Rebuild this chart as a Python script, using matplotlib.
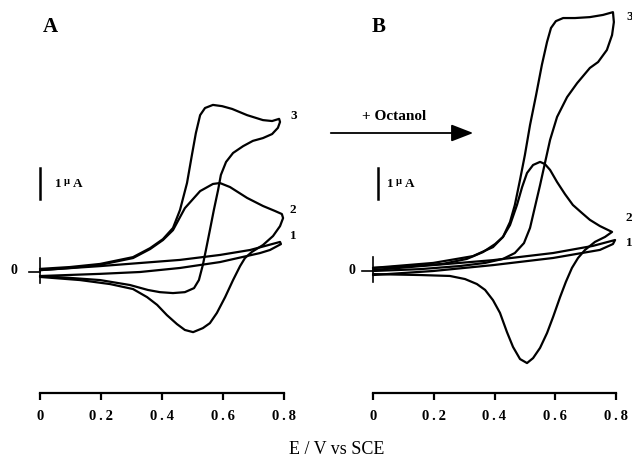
import matplotlib
matplotlib.use("Agg")
import matplotlib.pyplot as plt
from matplotlib.patches import FancyArrowPatch

# ---------------- data (E in V vs SCE, I in uA) ----------------
# Panel A
a1_fwd_E = [0, 0.197, 0.328, 0.459, 0.590, 0.689, 0.787]
a1_fwd_I = [0.06, 0.19, 0.29, 0.39, 0.55, 0.71, 0.97]
a1_ret_E = [0.790, 0.754, 0.721, 0.590, 0.459, 0.328, 0.197, 0]
a1_ret_I = [0.90, 0.71, 0.61, 0.32, 0.13, 0.0, -0.06, -0.13]

a2_fwd_E = [0, 0.098, 0.197, 0.305, 0.361, 0.403, 0.436, 0.475, 0.525, 0.567, 0.590,
            0.623, 0.679, 0.731, 0.770, 0.793]
a2_fwd_I = [0.06, 0.13, 0.23, 0.45, 0.74, 1.03, 1.35, 2.06, 2.61, 2.84, 2.87,
            2.74, 2.39, 2.13, 1.97, 1.87]
a2_ret_E = [0.797, 0.787, 0.764, 0.731, 0.695, 0.672, 0.656, 0.633, 0.607, 0.580, 0.557,
            0.534, 0.502, 0.475, 0.449, 0.416, 0.384, 0.351, 0.305, 0.230, 0.131, 0]
a2_ret_I = [1.74, 1.48, 1.16, 0.87, 0.65, 0.45, 0.19, -0.26, -0.81, -1.32, -1.65,
            -1.81, -1.94, -1.87, -1.68, -1.39, -1.06, -0.81, -0.55, -0.39, -0.26, -0.16]

a3_fwd_E = [0, 0.098, 0.197, 0.305, 0.361, 0.403, 0.436, 0.459, 0.482, 0.498, 0.511,
            0.525, 0.541, 0.567, 0.597, 0.630, 0.679, 0.731, 0.761, 0.784]
a3_fwd_I = [0.10, 0.16, 0.26, 0.48, 0.77, 1.06, 1.42, 2.0, 2.87, 3.77, 4.48,
            5.06, 5.29, 5.39, 5.35, 5.26, 5.06, 4.90, 4.87, 4.94]
a3_ret_E = [0.787, 0.780, 0.761, 0.731, 0.698, 0.666, 0.633, 0.610, 0.593, 0.584, 0.570,
            0.557, 0.544, 0.534, 0.521, 0.505, 0.475, 0.436, 0.393, 0.354, 0.295, 0.197,
            0.098, 0]
a3_ret_I = [4.84, 4.65, 4.45, 4.32, 4.23, 4.06, 3.84, 3.55, 3.13, 2.65, 2.0,
            1.35, 0.71, 0.23, -0.26, -0.52, -0.65, -0.68, -0.65, -0.58, -0.42, -0.26,
            -0.19, -0.13]

# Panel B (+ octanol)
b1_fwd_E = [0, 0.198, 0.395, 0.593, 0.724, 0.797]
b1_fwd_I = [0.03, 0.19, 0.35, 0.58, 0.81, 1.0]
b1_ret_E = [0.790, 0.747, 0.593, 0.395, 0.198, 0]
b1_ret_I = [0.87, 0.68, 0.42, 0.19, 0.0, -0.13]

b2_fwd_E = [0, 0.132, 0.230, 0.309, 0.362, 0.402, 0.428, 0.451, 0.474, 0.491, 0.507,
            0.527, 0.550, 0.566, 0.583, 0.606, 0.632, 0.658, 0.688, 0.714, 0.747, 0.787]
b2_fwd_I = [0.10, 0.16, 0.23, 0.39, 0.61, 0.87, 1.10, 1.48, 2.13, 2.71, 3.16,
            3.42, 3.52, 3.45, 3.26, 2.87, 2.48, 2.13, 1.87, 1.65, 1.45, 1.26]
b2_ret_E = [0.764, 0.731, 0.698, 0.675, 0.655, 0.635, 0.616, 0.593, 0.573, 0.550, 0.527,
            0.507, 0.484, 0.461, 0.441, 0.418, 0.395, 0.369, 0.342, 0.303, 0.253, 0.155, 0]
b2_ret_I = [1.10, 0.94, 0.68, 0.42, 0.10, -0.35, -0.84, -1.48, -2.0, -2.48, -2.81,
            -2.97, -2.84, -2.45, -1.97, -1.35, -0.94, -0.61, -0.42, -0.26, -0.16, -0.13, -0.10]

b3_fwd_E = [0, 0.198, 0.329, 0.395, 0.428, 0.451, 0.467, 0.484, 0.500, 0.517, 0.537,
            0.556, 0.573, 0.586, 0.602, 0.626, 0.665, 0.714, 0.757, 0.790]
b3_fwd_I = [0.10, 0.26, 0.48, 0.77, 1.10, 1.58, 2.13, 2.94, 3.74, 4.71, 5.68,
            6.65, 7.39, 7.84, 8.06, 8.16, 8.16, 8.19, 8.26, 8.35]
b3_ret_E = [0.793, 0.787, 0.770, 0.741, 0.714, 0.672, 0.639, 0.606, 0.583, 0.566, 0.550,
            0.533, 0.517, 0.497, 0.467, 0.428, 0.369, 0.286, 0.155, 0]
b3_ret_I = [8.03, 7.61, 7.13, 6.74, 6.55, 6.06, 5.61, 4.97, 4.23, 3.48, 2.77,
            2.06, 1.39, 0.90, 0.58, 0.39, 0.26, 0.16, 0.06, 0]

x_ticks = [0, 0.2, 0.4, 0.6, 0.8]
x_tick_labels = ["0", "0\u2009.\u20092", "0\u2009.\u20094", "0\u2009.\u20096", "0\u2009.\u20098"]
scale_bar_uA = 1.0

# ---------------- figure ----------------
W, H = 632, 463
fig = plt.figure(figsize=(W / 100, H / 100), dpi=100)
SERIF = ["Liberation Serif", "DejaVu Serif"]


def px(x, y):
    return x / W, 1 - y / H


def make_axes(left_px, right_px, xlim, ylim):
    ax = fig.add_axes([left_px / W, (H - 400) / H, (right_px - left_px) / W, 400 / H])
    ax.set_xlim(*xlim)
    ax.set_ylim(*ylim)
    ax.patch.set_alpha(0)
    for s in ["top", "left", "right"]:
        ax.spines[s].set_visible(False)
    ax.set_yticks([])
    return ax


axA = make_axes(0, 316, (-40 / 305, 276 / 305), ((272 - 400) / 31, 272 / 31))
axB = make_axes(316, 632, (-57 / 303.75, 259 / 303.75), ((271 - 400) / 31, 271 / 31))

curvesA = [(a1_fwd_E + a1_ret_E, a1_fwd_I + a1_ret_I),
           (a2_fwd_E + a2_ret_E, a2_fwd_I + a2_ret_I),
           (a3_fwd_E + a3_ret_E, a3_fwd_I + a3_ret_I)]
curvesB = [(b1_fwd_E + b1_ret_E, b1_fwd_I + b1_ret_I),
           (b2_fwd_E + b2_ret_E, b2_fwd_I + b2_ret_I),
           (b3_fwd_E + b3_ret_E, b3_fwd_I + b3_ret_I)]

for ax, curves, axis_y in [(axA, curvesA, -3.90), (axB, curvesB, -3.94)]:
    for E, I in curves:
        ax.plot(E, I, color="black", lw=1.6, solid_joinstyle="round",
                solid_capstyle="round")
    # x axis
    ax.spines["bottom"].set_position(("data", axis_y))
    ax.spines["bottom"].set_bounds(0, 0.8)
    ax.spines["bottom"].set_linewidth(1.6)
    ax.set_xticks(x_ticks)
    ax.set_xticklabels(x_tick_labels, fontfamily=SERIF, fontweight="bold", fontsize=10.5)
    ax.tick_params(axis="x", direction="out", length=5, width=1.6, pad=7)
    # origin marker
    ax.plot([-0.035, 0.0], [0, 0], color="black", lw=1.2)
    ax.plot([0, 0], [-0.35, 0.45], color="black", lw=1.2)

# "0" labels
fig.text(*px(14, 270), "0", fontfamily=SERIF, fontweight="bold", fontsize=10,
         ha="center", va="center")
fig.text(*px(352, 270), "0", fontfamily=SERIF, fontweight="bold", fontsize=10,
         ha="center", va="center")

# scale bars (1 uA)
for ax, e0, top in [(axA, 0.0, 3.35), (axB, 0.016, 3.32)]:
    ax.plot([e0, e0], [top - scale_bar_uA, top], color="black", lw=1.8)
for (xp, yp) in [(55, 184), (387, 184)]:
    fig.text(*px(xp, yp), "1", fontfamily=SERIF, fontweight="bold", fontsize=9.5,
             ha="left", va="center")
    fig.text(*px(xp + 9, yp - 3), "\u00b5", fontfamily=SERIF, fontweight="bold",
             fontsize=7.5, ha="left", va="center")
    fig.text(*px(xp + 18, yp), "A", fontfamily=SERIF, fontweight="bold", fontsize=9.5,
             ha="left", va="center")

# panel letters
fig.text(*px(43, 27), "A", fontfamily=SERIF, fontweight="bold", fontsize=15,
         ha="left", va="center")
fig.text(*px(372, 27), "B", fontfamily=SERIF, fontweight="bold", fontsize=15,
         ha="left", va="center")

# curve labels
for (xp, yp, t) in [(290, 116, "3"), (290, 210, "2"), (290, 236, "1"),
                    (626, 17, "3"), (626, 218, "2"), (626, 243, "1")]:
    fig.text(*px(xp, yp), t, fontfamily=SERIF, fontweight="bold", fontsize=9.5,
             ha="left", va="center")

# octanol arrow
arrow = FancyArrowPatch(px(328, 133), px(476, 133), transform=fig.transFigure,
                        arrowstyle="-|>,head_length=0.9,head_width=0.35",
                        mutation_scale=15, color="black", lw=1.3)
fig.patches.append(arrow)
fig.text(*px(394, 117), "+ Octanol", fontfamily=SERIF, fontweight="bold", fontsize=11,
         ha="center", va="center")

# x label
fig.text(*px(337, 450), "E / V vs SCE", fontfamily=SERIF, fontsize=13,
         ha="center", va="center")

fig.savefig("out.png", dpi=100)
